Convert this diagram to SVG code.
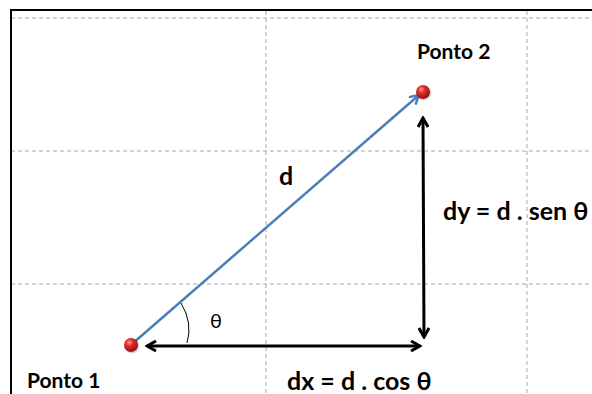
<svg xmlns="http://www.w3.org/2000/svg" width="592" height="394" viewBox="0 0 592 394">
<style>
.grid{stroke:#a6a6a6;stroke-width:1;stroke-dasharray:4 3;fill:none}
.lbl{font-family:Lato,"Liberation Sans",sans-serif;font-weight:bold;fill:#000}
.arw{stroke:#000;stroke-width:3;fill:none}
</style>
<defs>
<radialGradient id="ball" cx="0.38" cy="0.32" r="0.7">
<stop offset="0" stop-color="#ff9a9a"/>
<stop offset="0.35" stop-color="#e0312b"/>
<stop offset="1" stop-color="#8c1010"/>
</radialGradient>
<marker id="blk" viewBox="0 0 12 12" refX="10" refY="6" markerWidth="12" markerHeight="12" markerUnits="userSpaceOnUse" orient="auto-start-reverse">
<path d="M1,1 L10,6 L1,11" fill="none" stroke="#000" stroke-width="3"/>
</marker>
<marker id="blu" viewBox="0 0 12 12" refX="10" refY="6" markerWidth="12" markerHeight="12" markerUnits="userSpaceOnUse" orient="auto">
<path d="M1,1 L10,6 L1,11" fill="none" stroke="#4a7ebb" stroke-width="2.5"/>
</marker>
</defs>
<rect x="0" y="0" width="592" height="394" fill="#fff"/>
<g id="grid">
<line class="grid" x1="11" y1="18" x2="592" y2="18"/>
<line class="grid" x1="11" y1="151" x2="592" y2="151"/>
<line class="grid" x1="11" y1="284" x2="592" y2="284"/>
<line class="grid" x1="266" y1="11" x2="266" y2="394"/>
<line class="grid" x1="527" y1="11" x2="527" y2="394"/>
</g>
<path d="M11,394 L11,10 L592,10" fill="none" stroke="#000" stroke-width="2"/>
<g id="connectors">
<line x1="132" y1="344" x2="419" y2="95" stroke="#4a7ebb" stroke-width="2.5" marker-end="url(#blu)"/>
<line class="arw" x1="147" y1="346" x2="420" y2="346" marker-start="url(#blk)" marker-end="url(#blk)"/>
<line class="arw" x1="423" y1="118" x2="424" y2="337" marker-start="url(#blk)" marker-end="url(#blk)"/>
<path d="M181,303 Q193,323 187,343" fill="none" stroke="#000" stroke-width="1"/>
</g>
<g id="ponto1">
<circle cx="132" cy="346" r="7.5" fill="#000" opacity="0.15"/>
<circle cx="131" cy="345" r="7" fill="url(#ball)"/>
<text class="lbl" x="27" y="388" font-size="21">Ponto 1</text>
</g>
<g id="ponto2">
<circle cx="424" cy="93" r="7.5" fill="#000" opacity="0.15"/>
<circle cx="423" cy="92" r="7" fill="url(#ball)"/>
<text class="lbl" x="417" y="59" font-size="21">Ponto 2</text>
</g>
<g id="labels">
<text class="lbl" x="279" y="185" font-size="25">d</text>
<text class="lbl" x="443" y="220" font-size="25">dy = d . sen θ</text>
<text class="lbl" x="287" y="390" font-size="25">dx = d . cos θ</text>
<text x="210" y="328" font-size="20" font-family="Lato,'Liberation Sans',sans-serif" fill="#000">θ</text>
</g>
</svg>
